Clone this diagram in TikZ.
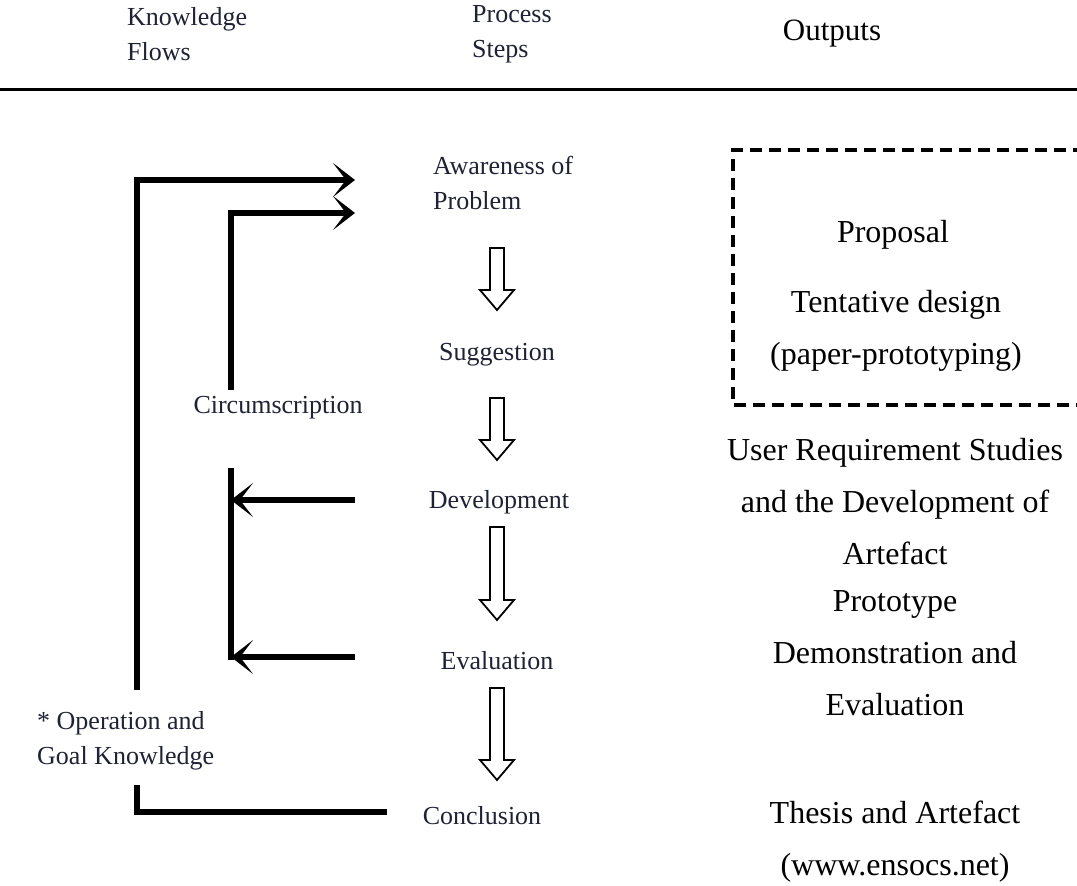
\documentclass[tikz,border=0pt]{standalone}
\usepackage{fontspec}
\newfontfamily\outfont{Liberation Serif}
\newfontfamily\stepfont{Liberation Serif}
\usetikzlibrary{arrows.meta}
\definecolor{steptext}{RGB}{30,34,52}
\begin{document}
\begin{tikzpicture}[x=1pt,y=-1pt,
  lbl/.style={inner sep=0pt, text=steptext, font=\stepfont\fontsize{26}{35}\selectfont},
  outtxt/.style={inner sep=0pt, align=center, font=\outfont\fontsize{32}{52}\selectfont},
  flow/.style={line width=6pt, line join=miter, -{Stealth[length=22pt,width=34pt,inset=13pt]}},
  flowline/.style={line width=6pt, line join=miter},
  blockarrow/.style={draw, line width=1.8pt, fill=white, line join=miter},
  outbox/.style={line width=4pt, dash pattern=on 12pt off 7pt}
]
\useasboundingbox (0,0) rectangle (1077,886);

% column headers and rule
\node[lbl, anchor=west, align=left] (kf) at (127,34) {Knowledge\\Flows};
\node[lbl, anchor=west, align=left] (ps) at (472,34) {Process\\Steps};
\node[outtxt, font=\outfont\fontsize{31}{40}\selectfont] (out) at (832,34) {Outputs};
\draw[line width=3pt] (0,89) -- (1077,89);

% process steps
\node[lbl, anchor=west, align=left] (aw) at (433,183) {Awareness of\\Problem};
\node[lbl] (sug) at (497,355) {Suggestion};
\node[lbl] (dev) at (499,502) {Development};
\node[lbl] (eva) at (497,661) {Evaluation};
\node[lbl] (con) at (482,816) {Conclusion};

% hollow block arrows between the steps
\foreach \t/\b in {248/310, 398/460, 527/620, 688/780} {
  \draw[blockarrow] (490,\t) -- (490,\b-20) -- (480,\b-20) -- (497,\b)
        -- (514,\b-20) -- (504,\b-20) -- (504,\t) -- cycle;
}

% knowledge flow labels
\node[lbl] (circ) at (278,408) {Circumscription};
\node[lbl, anchor=west, align=left] (opg) at (37,741) {* Operation and\\Goal Knowledge};

% outer loop: operation and goal knowledge
\coordinate (outerA) at (137,690);
\coordinate (outerTip) at (355,180);
\coordinate (outerB) at (137,785);
\coordinate (conEnd) at (387,812);
\draw[flow] (outerA) |- (outerTip);
\draw[flowline] (conEnd) -| (outerB);

% inner loop: circumscription
\coordinate (innerA) at (231,390);
\coordinate (innerTip) at (355,213);
\coordinate (innerB) at (231,468);
\coordinate (innerC) at (231,660);
\coordinate (devTail) at (355,500);
\coordinate (devTip) at (231,500);
\coordinate (evaTail) at (355,657);
\coordinate (evaTip) at (231,657);
\draw[flow] (innerA) |- (innerTip);
\draw[flowline] (innerB) -- (innerC);
\draw[flow] (devTail) -- (devTip);
\draw[flow] (evaTail) -- (evaTip);

% outputs column
\draw[outbox] (1085,150) -| (733,405) -- (1085,405);
\node[outtxt] (prop) at (893,235) {Proposal};
\node[outtxt] (tent) at (896,331) {Tentative design\\(paper-prototyping)};
\node[outtxt] (urs) at (895,502) {User Requirement Studies\\and the Development of\\Artefact};
\node[outtxt] (proto) at (895,653) {Prototype\\Demonstration and\\Evaluation};
\node[outtxt] (thesis) at (895,842) {Thesis and Artefact\\(www.ensocs.net)};
\end{tikzpicture}
\end{document}
